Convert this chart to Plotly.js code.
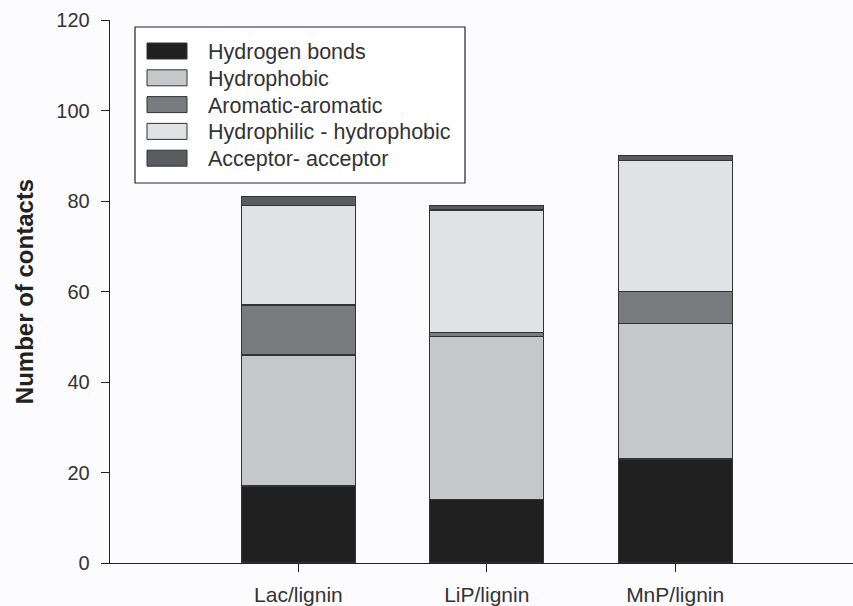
<!DOCTYPE html>
<html>
<head>
<meta charset="utf-8">
<script src="https://cdn.plot.ly/plotly-3.0.1.min.js"></script>
<style>html,body{margin:0;padding:0;background:#fcfcfe;}#chart{width:853px;height:606px;}</style>
</head>
<body>
<div id="chart"></div>
<script>
const categories = ["Lac/lignin", "LiP/lignin", "MnP/lignin"];
const seriesNames = ["Hydrogen bonds", "Hydrophobic", "Aromatic-aromatic", "Hydrophilic - hydrophobic", "Acceptor- acceptor"];
const hydrogenBonds = [17, 14, 23];
const hydrophobic = [29, 36, 30];
const aromaticAromatic = [11, 1, 7];
const hydrophilicHydrophobic = [22, 27, 29];
const acceptorAcceptor = [2, 1, 1];
const seriesColors = ["#202020", "#c6c7c9", "#7a7b7f", "#e1e2e4", "#5b5c5f"];
const yTicks = [0, 20, 40, 60, 80, 100, 120];

const W = 853, H = 606;
const M = {l: 110, r: 0, t: 20, b: 43};
const PW = W - M.l - M.r, PH = H - M.t - M.b;
const px = x => (x - M.l) / PW;           // pixel -> paper x
const py = y => (H - M.b - y) / PH;        // pixel -> paper y

const allSeries = [hydrogenBonds, hydrophobic, aromaticAromatic, hydrophilicHydrophobic, acceptorAcceptor];
const traces = allSeries.map((vals, i) => ({
  type: "bar",
  name: seriesNames[i],
  x: [0, 1, 2],
  y: vals,
  width: 0.605,
  marker: {color: seriesColors[i], line: {color: "#333333", width: 1.3}},
  hoverinfo: "skip",
  showlegend: false
}));

// hand-built legend box (matches the original's wide swatches)
const shapes = [{
  type: "rect", xref: "paper", yref: "paper",
  x0: px(135), x1: px(465), y0: py(183), y1: py(27),
  line: {color: "#222222", width: 1.2}, fillcolor: "#ffffff", layer: "above"
}];
const annotations = [];
const rowTop = 51, rowGap = 26.8;
seriesNames.forEach((name, i) => {
  const cy = rowTop + i * rowGap;
  shapes.push({
    type: "rect", xref: "paper", yref: "paper",
    x0: px(147), x1: px(187), y0: py(cy + 8), y1: py(cy - 8),
    line: {color: "#333333", width: 1}, fillcolor: seriesColors[i], layer: "above"
  });
  annotations.push({
    xref: "paper", yref: "paper", x: px(206), y: py(cy + 1),
    xanchor: "left", yanchor: "middle", showarrow: false,
    text: name, font: {size: 21.5, color: "#333333"}
  });
});

const layout = {
  width: W, height: H,
  barmode: "stack",
  paper_bgcolor: "#fcfcfe",
  plot_bgcolor: "#fcfcfe",
  margin: {l: M.l, r: M.r, t: M.t, b: M.b, pad: 0},
  font: {family: "Liberation Sans, Arial, sans-serif", color: "#333333", size: 20},
  showlegend: false,
  shapes: shapes,
  annotations: annotations,
  xaxis: {
    range: [-1.0, 2.944],
    tickmode: "array",
    tickvals: [0, 1, 2],
    ticktext: categories,
    ticks: "outside", ticklen: 8, tickcolor: "#222222", tickwidth: 1,
    ticklabelstandoff: 4,
    showline: true, linecolor: "#222222", linewidth: 1.3,
    showgrid: false, zeroline: false,
    tickfont: {size: 21, color: "#333333"}
  },
  yaxis: {
    range: [0, 120],
    tickmode: "array",
    tickvals: yTicks,
    ticks: "outside", ticklen: 8, tickcolor: "#222222", tickwidth: 1,
    ticklabelstandoff: 7,
    showline: true, linecolor: "#222222", linewidth: 1.3,
    showgrid: false, zeroline: false,
    tickfont: {size: 20, color: "#333333"},
    title: {text: "<b>Number of contacts</b>", font: {size: 24, color: "#222222"}, standoff: 16}
  }
};

Plotly.newPlot("chart", traces, layout, {displayModeBar: false, staticPlot: true});
</script>
</body>
</html>
